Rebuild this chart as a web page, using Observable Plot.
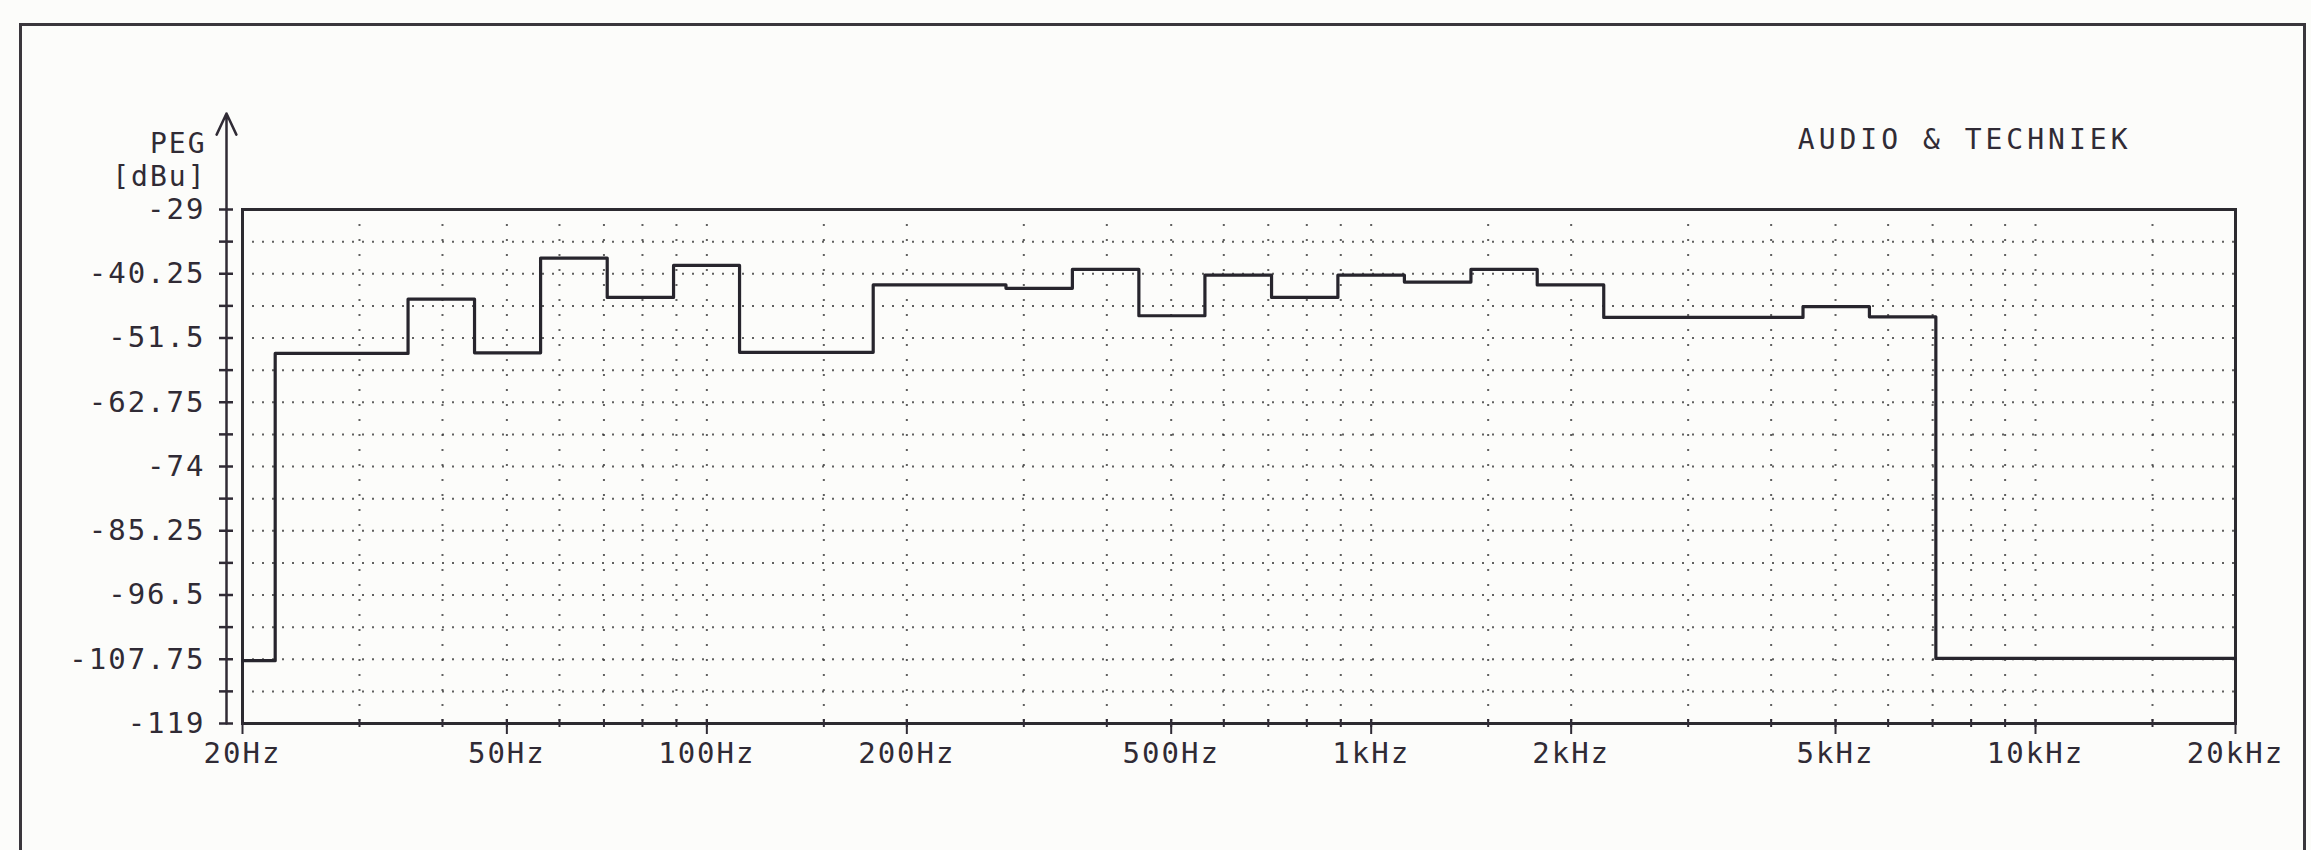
<!DOCTYPE html>
<html>
<head>
<meta charset="utf-8">
<script src="https://cdn.jsdelivr.net/npm/d3@7"></script>
<script src="https://cdn.jsdelivr.net/npm/@observablehq/plot@0.6"></script>
<style>
  html, body { margin: 0; padding: 0; background: #fcfcfa; }
  #wrap { position: relative; width: 2311px; height: 850px; overflow: hidden; }
  #border { position: absolute; left: 19px; top: 23px; width: 2281px; height: 900px;
            border-left: 3px solid #3a363c; border-top: 3px solid #3a363c; border-right: 3px solid #3a363c; }
  #wrap svg text { letter-spacing: 2px; }
</style>
</head>
<body>
<div id="wrap"><div id="border"></div></div>
<script>
// 1/3-octave band lower edges (Hz) and measured level per band (dBu)
const bandLow = [20, 22.4, 28.2, 35.5, 44.7, 56.2, 70.8, 89.1, 112, 141, 178, 224, 282, 355, 447, 562,
                 708, 891, 1122, 1413, 1778, 2239, 2818, 3548, 4467, 5623, 7079, 8913, 11220, 14130, 17780];
const bandLevel = [-108, -54.2, -54.2, -44.7, -54.1, -37.5, -44.4, -38.8, -54.0, -54.0, -42.2, -42.2, -42.8, -39.5, -47.6, -40.5,
                   -44.4, -40.5, -41.7, -39.5, -42.2, -47.9, -47.9, -47.9, -46.0, -47.8, -107.6, -107.6, -107.6, -107.6, -107.6];
const freqEnd = 20000;

const xDomain = [20, 20000];
const yDomain = [-119, -29];

const xTickValues = [20, 50, 100, 200, 500, 1000, 2000, 5000, 10000, 20000];
const xTickLabels = ["20Hz", "50Hz", "100Hz", "200Hz", "500Hz", "1kHz", "2kHz", "5kHz", "10kHz", "20kHz"];
const xGridValues = [30, 40, 50, 60, 70, 80, 90, 100, 150, 200, 300, 400, 500, 600, 700, 800, 900, 1000, 1500,
                     2000, 3000, 4000, 5000, 6000, 7000, 8000, 9000, 10000, 15000];

const yTickValues = [-29, -40.25, -51.5, -62.75, -74, -85.25, -96.5, -107.75, -119];
const yTickLabels = ["-29", "-40.25", "-51.5", "-62.75", "-74", "-85.25", "-96.5", "-107.75", "-119"];
const yAllTicks = [-29, -34.625, -40.25, -45.875, -51.5, -57.125, -62.75, -68.375, -74, -79.625,
                   -85.25, -90.875, -96.5, -102.125, -107.75, -113.375, -119];
const yGridValues = yAllTicks.filter(v => v > -119 && v < -29);

const yLabelTop = "PEG";
const yLabelUnit = "[dBu]";
const brandText = "AUDIO & TECHNIEK";

const points = bandLow.map((f, i) => ({f, db: bandLevel[i]}));
points.push({f: freqEnd, db: bandLevel[bandLevel.length - 1]});

const xLabelMap = new Map(xTickValues.map((v, i) => [v, xTickLabels[i]]));
const yLabelMap = new Map(yTickValues.map((v, i) => [v, yTickLabels[i]]));

const ink = "#302b35";
const chart = Plot.plot({
  width: 2311,
  height: 850,
  marginLeft: 242,
  marginRight: 76,
  marginTop: 209,
  marginBottom: 127,
  x: {type: "log", domain: xDomain, axis: null},
  y: {domain: yDomain, axis: null},
  style: {background: "transparent", fontFamily: "'DejaVu Sans Mono', monospace", fontSize: "29px", color: ink, overflow: "visible"},
  marks: [
    Plot.gridX(xGridValues, {stroke: "#3a3a3a", strokeOpacity: 0.8, strokeWidth: 2, strokeDasharray: "2,13"}),
    Plot.gridY(yGridValues, {stroke: "#3a3a3a", strokeOpacity: 0.8, strokeWidth: 2, strokeDasharray: "2,8"}),
    Plot.frame({stroke: "#2c2a30", strokeWidth: 3}),
    Plot.line(points, {x: "f", y: "db", curve: "step-after", stroke: "#27252d", strokeWidth: 3.2}),
    Plot.axisY(yAllTicks, {anchor: "left", label: null, tickSize: 14, dx: -9, tickPadding: 14, strokeWidth: 2.5,
      tickFormat: d => yLabelMap.get(d) ?? "", fill: ink}),
    Plot.arrow([0], {x1: xDomain[0], x2: xDomain[0], y1: yDomain[0], y2: yDomain[1], insetEnd: -96,
      dx: -16, stroke: ink, strokeWidth: 2.5, headLength: 14, headAngle: 50}),
    Plot.axisX(xGridValues, {anchor: "bottom", label: null, tickSize: 8, dy: -4, tickFormat: () => "", strokeWidth: 2}),
    Plot.axisX(xTickValues, {anchor: "bottom", label: null, tickSize: 15, dy: -4, tickPadding: 8, strokeWidth: 2,
      tickFormat: d => xLabelMap.get(d), fill: ink}),
    Plot.text([yLabelTop], {text: d => d, frameAnchor: "top-left", textAnchor: "end", dx: -36, dy: -76, fill: ink, fontSize: 28}),
    Plot.text([yLabelUnit], {text: d => d, frameAnchor: "top-left", textAnchor: "end", dx: -36, dy: -43, fill: ink, fontSize: 28}),
    Plot.text([brandText], {text: d => d, frameAnchor: "top-right", textAnchor: "end", dx: -104, dy: -80,
      fill: ink, fontSize: 28})
  ]
});
document.getElementById("wrap").appendChild(chart);
d3.select(chart).selectAll("text").filter(function() { return this.textContent === brandText; })
  .style("letter-spacing", "4px");
</script>
</body>
</html>
